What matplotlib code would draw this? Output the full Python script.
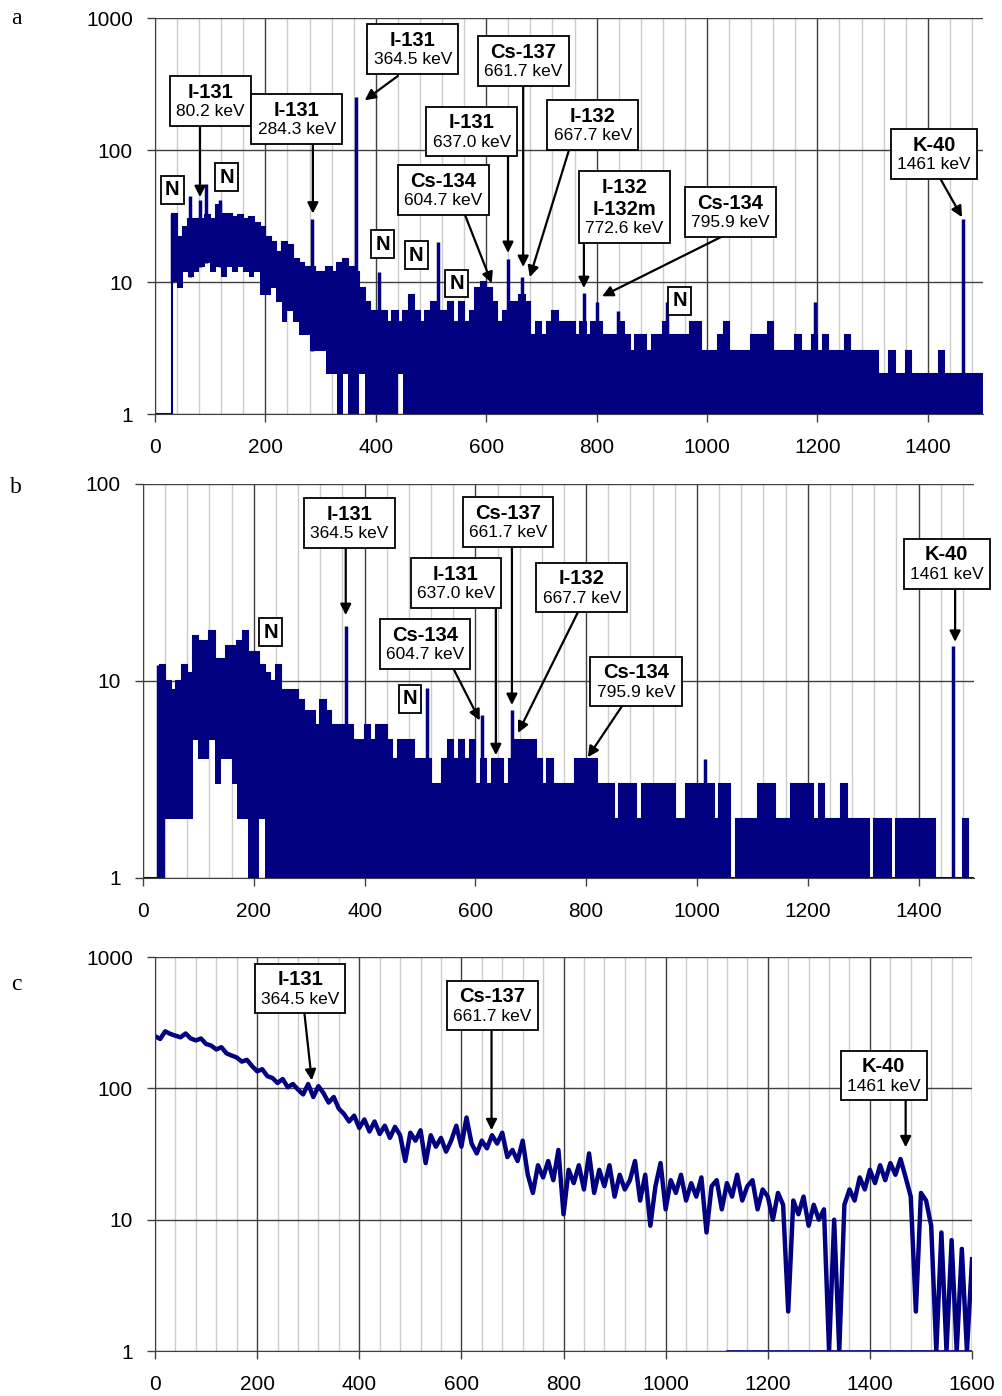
import numpy as np
import matplotlib
matplotlib.use("Agg")
import matplotlib.pyplot as plt
from matplotlib.ticker import NullLocator
from matplotlib.offsetbox import TextArea, VPacker, AnnotationBbox

plt.rcParams["font.family"] = ["Liberation Sans", "DejaVu Sans"]

NAVY = "#000080"

# --------------------------------------------------
# Panel a : spectrum, 10 keV bins (upper / lower envelope of counts)
# --------------------------------------------------
a_upper = [
    1, 1, 1, 33, 22, 26, 30, 30, 30, 32,        # 0-90
    30, 38, 33, 33, 31, 32, 30, 31, 28, 26,     # 100-190
    22, 20, 17, 20, 19, 15, 14, 13, 13, 12,     # 200-290
    12, 13, 12, 14, 15, 13, 12, 9, 7, 6,        # 300-390
    6, 6, 5, 6, 5, 6, 8, 6, 5, 6,               # 400-490
    7, 6, 6, 7, 5, 7, 5, 6, 9, 10,              # 500-590
    9, 7, 5, 6, 7, 7, 8, 7, 4, 5,               # 600-690
    4, 5, 6, 5, 5, 5, 4, 5, 4, 5,               # 700-790
    5, 4, 4, 4, 5, 4, 3, 4, 4, 3,               # 800-890
    4, 4, 5, 4, 4, 4, 4, 5, 5, 3,               # 900-990
    3, 3, 4, 5, 3, 3, 3, 3, 4, 4,               # 1000-1090
    4, 5, 3, 3, 3, 3, 4, 3, 3, 4,               # 1100-1190
    3, 4, 3, 3, 3, 4, 3, 3, 3, 3,               # 1200-1290
    3, 2, 2, 3, 2, 2, 3, 2, 2, 2,               # 1300-1390
    2, 2, 3, 2, 2, 2, 2, 2, 2, 2,               # 1400-1490
]
a_lower = [
    1, 1, 1, 10, 9, 12, 11, 12, 13, 14,
    12, 13, 11, 13, 12, 13, 12, 11, 12, 8,
    8, 9, 7, 5, 6, 5, 4, 4, 3, 3,
    3, 2, 2, 1, 2, 1, 1, 2, 1, 1,
    1, 1, 1, 1, 2, 1, 1, 1, 1, 1,
    1, 1, 1, 1, 1, 1, 1, 1, 1, 1,
    1, 1, 1, 1, 1, 1, 1, 1, 1, 1,
    1, 1, 1, 1, 1, 1, 1, 1, 1, 1,
    1, 1, 1, 1, 1, 1, 1, 1, 1, 1,
    1, 1, 1, 1, 1, 1, 1, 1, 1, 1,
    1, 1, 1, 1, 1, 1, 1, 1, 1, 1,
    1, 1, 1, 1, 1, 1, 1, 1, 1, 1,
    1, 1, 1, 1, 1, 1, 1, 1, 1, 1,
    1, 1, 1, 1, 1, 1, 1, 1, 1, 1,
    1, 1, 1, 1, 1, 1, 1, 1, 1, 1,
]
a_peak_e = [31, 63, 82, 92, 118, 284, 364.5, 406, 513, 640, 664, 777, 800, 839, 927, 1196, 1464]
a_peak_v = [33, 45, 42, 55, 42, 30, 250, 12, 20, 15, 11, 8.3, 7, 6, 7, 7, 30]

# --------------------------------------------------
# Panel b
# --------------------------------------------------
b_upper = [
    1, 1, 1, 12, 10, 9, 10, 12, 11, 17,
    16, 16, 18, 13, 13, 15, 15, 16, 18, 14,
    14, 12, 11, 10, 12, 9, 9, 9, 8, 7,
    7, 6, 8, 7, 6, 6, 6, 6, 5, 5,
    6, 5, 6, 6, 5, 4, 5, 5, 5, 4,
    4, 4, 3, 3, 4, 5, 4, 5, 4, 5,
    3, 4, 3, 4, 4, 3, 4, 5, 5, 5,
    5, 4, 3, 4, 3, 3, 3, 3, 4, 4,
    4, 4, 3, 3, 3, 2, 3, 3, 3, 2,
    3, 3, 3, 3, 3, 3, 2, 2, 3, 3,
    3, 3, 3, 2, 3, 3, 1, 2, 2, 2,
    2, 3, 3, 3, 2, 2, 2, 3, 3, 3,
    3, 2, 3, 2, 2, 2, 3, 2, 2, 2,
    2, 1, 2, 2, 2, 1, 2, 2, 2, 2,
    2, 2, 2, 1, 1, 1, 1, 1, 2, 1,
]
b_lower = [
    1, 1, 1, 1, 2, 2, 2, 2, 2, 5,
    4, 4, 5, 3, 4, 4, 3, 2, 2, 1,
    1, 2, 1, 1, 1, 1, 1, 1, 1, 1,
    1, 1, 1, 1, 1, 1, 1, 1, 1, 1,
    1, 1, 1, 1, 1, 1, 1, 1, 1, 1,
    1, 1, 1, 1, 1, 1, 1, 1, 1, 1,
    1, 1, 1, 1, 1, 1, 1, 1, 1, 1,
    1, 1, 1, 1, 1, 1, 1, 1, 1, 1,
    1, 1, 1, 1, 1, 1, 1, 1, 1, 1,
    1, 1, 1, 1, 1, 1, 1, 1, 1, 1,
    1, 1, 1, 1, 1, 1, 1, 1, 1, 1,
    1, 1, 1, 1, 1, 1, 1, 1, 1, 1,
    1, 1, 1, 1, 1, 1, 1, 1, 1, 1,
    1, 1, 1, 1, 1, 1, 1, 1, 1, 1,
    1, 1, 1, 1, 1, 1, 1, 1, 1, 1,
]
b_peak_e = [28, 366, 512, 612, 666, 1014, 1463]
b_peak_v = [12, 19, 9.2, 6.7, 7.1, 4, 15]

# --------------------------------------------------
# Panel c : continuous spectrum, every 10 keV
# --------------------------------------------------
c_energy = list(range(0, 1601, 10))
c_counts = [
    250, 238, 272, 260, 252, 245, 262, 240, 232, 240,   # 0-90
    218, 212, 198, 206, 185, 178, 172, 160, 165, 148,   # 100-190
    135, 140, 124, 120, 110, 118, 102, 108, 98, 90,     # 200-290
    108, 86, 104, 92, 78, 86, 70, 64, 56, 62,           # 300-390
    50, 58, 47, 56, 45, 52, 42, 51, 44, 28,             # 400-490
    46, 40, 48, 27, 44, 36, 42, 33, 40, 52,             # 500-590
    36, 60, 38, 32, 40, 35, 44, 38, 46, 30,             # 600-690
    34, 28, 40, 22, 16, 26, 21, 28, 20, 34,             # 700-790
    11, 24, 19, 26, 17, 32, 16, 24, 18, 26,             # 800-890
    15, 22, 17, 20, 28, 14, 22, 9, 18, 27,              # 900-990
    12, 20, 16, 22, 14, 19, 15, 21, 8, 18,              # 1000-1090
    20, 12, 19, 15, 22, 14, 18, 20, 12, 17,             # 1100-1190
    15, 10, 16, 13, 2, 14, 11, 15, 9, 13,               # 1200-1290
    10, 12, 1, 10, 1, 13, 17, 14, 21, 17,               # 1300-1390
    24, 19, 26, 20, 27, 22, 29, 21, 15, 2,              # 1400-1490
    16, 14, 9, 1, 8, 1, 7, 1, 6, 1,                     # 1500-1590
    5,                                                  # 1600
]
c_zero_energy = [1120, 1600]
c_zero_counts = [1, 1]

# --------------------------------------------------
# Annotations: (name lines, energy text, box centre, arrow start, arrow tip)
# --------------------------------------------------
a_labels = [
    (["I-131"], "80.2 keV", (100, 235), (81.5, 157), (81.5, 44)),
    (["I-131"], "284.3 keV", (257, 172), (286, 115), (286, 33)),
    (["I-131"], "364.5 keV", (467, 582), (440, 364), (380, 238)),
    (["Cs-137"], "661.7 keV", (667, 472), (667, 311), (667, 13)),
    (["I-131"], "637.0 keV", (574, 139), (639.5, 92), (639.5, 16.6)),
    (["I-132"], "667.7 keV", (793, 155), (750, 100), (679, 10.9)),
    (["Cs-134"], "604.7 keV", (522, 49.8), (561, 32.7), (610, 9.8)),
    (["I-132", "I-132m"], "772.6 keV", (850, 37), (777, 19.4), (777, 9.0)),
    (["Cs-134"], "795.9 keV", (1042, 33.9), (1029, 22.3), (810, 7.8)),
    (["K-40"], "1461 keV", (1411, 93.3), (1422, 61.4), (1462, 31)),
]
a_n_boxes = [(31, 49.8), (130, 62.4), (413, 19.4), (473, 16), (547, 9.8), (951, 7.2)]

b_labels = [
    (["I-131"], "364.5 keV", (372, 63.4), (366, 49), (366, 21.6)),
    (["Cs-137"], "661.7 keV", (659, 64.2), (666, 49), (666, 7.55)),
    (["I-131"], "637.0 keV", (565, 31.4), (637, 24.3), (637, 4.2)),
    (["I-132"], "667.7 keV", (792, 29.7), (787, 22.9), (677, 5.45)),
    (["Cs-134"], "604.7 keV", (509, 15.4), (558, 11.9), (608, 6.3)),
    (["Cs-134"], "795.9 keV", (890, 9.9), (866, 7.55), (803, 4.1)),
    (["K-40"], "1461 keV", (1451, 39.3), (1466, 30), (1466, 15.8)),
]
b_n_boxes = [(231, 17.7), (482, 8.1)]

c_labels = [
    (["I-131"], "364.5 keV", (284, 576), (292, 392), (307, 115)),
    (["Cs-137"], "661.7 keV", (661, 428), (659, 276), (659, 48)),
    (["K-40"], "1461 keV", (1427, 126), (1470, 81), (1470, 35.6)),
]


def style_axes(ax, xmax, ymax):
    ax.set_yscale("log")
    ax.set_xlim(0, xmax)
    ax.set_ylim(1, ymax)
    xt = list(range(0, xmax + 1, 200))
    ax.set_xticks(xt)
    ax.set_xticklabels([str(v) for v in xt])
    ax.set_xticks(np.arange(0, xmax + 1, 40), minor=True)
    yt = [v for v in [1, 10, 100, 1000] if v <= ymax]
    ax.set_yticks(yt)
    ax.set_yticklabels([str(v) for v in yt])
    ax.yaxis.set_minor_locator(NullLocator())
    ax.tick_params(which="major", labelsize=15, length=6, width=1, color="#404040")
    ax.tick_params(axis="x", which="major", pad=11)
    ax.tick_params(axis="y", which="major", pad=10)
    ax.tick_params(which="minor", length=0)
    ax.grid(which="minor", axis="x", color="#cccccc", lw=1)
    ax.grid(which="major", axis="both", color="#404040", lw=1)
    ax.set_axisbelow(True)
    for s in ["top", "right"]:
        ax.spines[s].set_visible(False)
    for s in ["left", "bottom"]:
        ax.spines[s].set_color("#404040")


def draw_binned(ax, upper, lower, peak_e, peak_v):
    edges = np.arange(0, 10 * len(upper) + 1, 10)
    ax.stairs(upper, edges, baseline=lower, fill=True, color=NAVY, lw=0)
    ax.stairs(upper, edges, baseline=None, color=NAVY, lw=1.5)
    # narrow peaks rise from the lower envelope of their bin
    bottoms = [lower[int(e // 10)] for e in peak_e]
    ax.vlines(peak_e, bottoms, peak_v, color=NAVY, lw=2.5)


def add_labels(ax, labels, n_boxes=()):
    for names, energy, centre, start, tip in labels:
        ax.annotate("", xy=tip, xytext=start,
                    arrowprops=dict(arrowstyle="-|>", color="black", lw=1.6,
                                    mutation_scale=16, shrinkA=0, shrinkB=0),
                    zorder=4)
        rows = [TextArea(n, textprops=dict(fontsize=14.5, fontweight="bold")) for n in names]
        rows.append(TextArea(energy, textprops=dict(fontsize=12.5)))
        pack = VPacker(children=rows, align="center", pad=0, sep=2)
        ab = AnnotationBbox(pack, centre, xycoords="data", frameon=True, pad=0.45,
                            bboxprops=dict(edgecolor="black", lw=1.3, facecolor="white"),
                            zorder=5)
        ax.add_artist(ab)
    for pos in n_boxes:
        ta = TextArea("N", textprops=dict(fontsize=14.5, fontweight="bold"))
        ab = AnnotationBbox(ta, pos, xycoords="data", frameon=True, pad=0.3,
                            bboxprops=dict(edgecolor="black", lw=1.3, facecolor="white"),
                            zorder=5)
        ax.add_artist(ab)


fig = plt.figure(figsize=(10.02, 13.96), dpi=100)

ax_a = fig.add_axes([0.1547, 0.7034, 0.8263, 0.2837])
style_axes(ax_a, 1500, 1000)
draw_binned(ax_a, a_upper, a_lower, a_peak_e, a_peak_v)
add_labels(ax_a, a_labels, a_n_boxes)

ax_b = fig.add_axes([0.1427, 0.3711, 0.8293, 0.2822])
style_axes(ax_b, 1500, 100)
draw_binned(ax_b, b_upper, b_lower, b_peak_e, b_peak_v)
add_labels(ax_b, b_labels, b_n_boxes)

ax_c = fig.add_axes([0.1547, 0.0322, 0.8154, 0.2822])
style_axes(ax_c, 1600, 1000)
ax_c.plot(c_zero_energy, c_zero_counts, color=NAVY, lw=1.2)
ax_c.plot(c_energy, c_counts, color=NAVY, lw=3.2)
add_labels(ax_c, c_labels)

for letter, y in [("a", 0.9828), ("b", 0.6468), ("c", 0.2908)]:
    fig.text(0.016, y, letter, fontsize=17, family="Liberation Serif",
             ha="center", va="baseline")

fig.savefig("out.png", dpi=100)
